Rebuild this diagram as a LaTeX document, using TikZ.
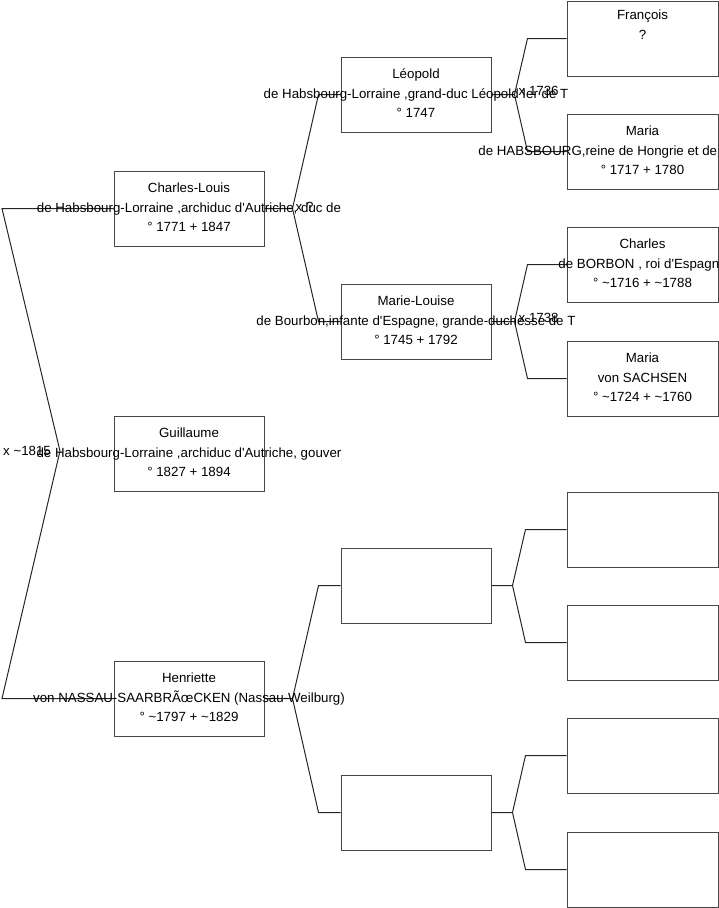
\documentclass[tikz,border=0pt]{standalone}
\usepackage{fontspec}
\setmainfont{Liberation Sans}[Ligatures=TeXOff]
\newcommand\mytilde{\textasciitilde}
\begin{document}
\begin{tikzpicture}[x=1pt,y=-1pt,
  person/.style={draw=black!72, line width=1pt, minimum width=150pt, minimum height=75pt, inner sep=0pt},
  personr/.style={person, minimum width=151pt},
  ptext/.style={align=center, font=\fontsize{13.3}{19.5}\selectfont, inner sep=0pt},
  link/.style={draw=black!85, line width=1pt},
  mlabel/.style={anchor=west, font=\fontsize{13.3}{16}\selectfont, inner sep=0pt}]
\useasboundingbox (0,0) rectangle (719,908);
% column 0
\node[person] (cl) at (189,208.5) {};
\node[person] (gu) at (189,453.5) {};
\node[person] (he) at (189,698.5) {};
% column 1
\node[person] (le) at (416,94.5) {};
\node[person] (ml) at (416,321.5) {};
\node[person] (e1) at (416,585.5) {};
\node[person] (e2) at (416,812.5) {};
% column 2
\node[personr] (fr) at (642.5,38.5) {};
\node[personr] (mh) at (642.5,151.5) {};
\node[personr] (ch) at (642.5,264.5) {};
\node[personr] (ms) at (642.5,378.5) {};
\node[personr] (e3) at (642.5,529.5) {};
\node[personr] (e4) at (642.5,642.5) {};
\node[personr] (e5) at (642.5,755.5) {};
\node[personr] (e6) at (642.5,869.5) {};
% connectors
\coordinate (l1) at (2,208.5);
\coordinate (l2) at (60,451);
\coordinate (l3) at (2,698.5);
\draw[link] (cl.west) -- (l1) -- (l2) -- (l3) -- (he.west);
\coordinate (f1) at ([xshift=28pt]cl.east);
\draw[link] (cl.east) -- (f1) -- ([xshift=-22pt]le.west) -- (le.west);
\draw[link] (f1) -- ([xshift=-22pt]ml.west) -- (ml.west);
\coordinate (f2) at ([xshift=28pt]he.east);
\draw[link] (he.east) -- (f2) -- ([xshift=-22pt]e1.west) -- (e1.west);
\draw[link] (f2) -- ([xshift=-22pt]e2.west) -- (e2.west);
\coordinate (f3) at ([xshift=23pt]le.east);
\draw[link] (le.east) -- (f3) -- ([xshift=-39pt]fr.west) -- (fr.west);
\draw[link] (f3) -- ([xshift=-39pt]mh.west) -- (mh.west);
\coordinate (f4) at ([xshift=23pt]ml.east);
\draw[link] (ml.east) -- (f4) -- ([xshift=-39pt]ch.west) -- (ch.west);
\draw[link] (f4) -- ([xshift=-39pt]ms.west) -- (ms.west);
\coordinate (f5) at ([xshift=21pt]e1.east);
\draw[link] (e1.east) -- (f5) -- ([xshift=-41pt]e3.west) -- (e3.west);
\draw[link] (f5) -- ([xshift=-41pt]e4.west) -- (e4.west);
\coordinate (f6) at ([xshift=21pt]e2.east);
\draw[link] (e2.east) -- (f6) -- ([xshift=-41pt]e5.west) -- (e5.west);
\draw[link] (f6) -- ([xshift=-41pt]e6.west) -- (e6.west);
% texts
\node[ptext] (clt) at ([yshift=1pt]cl.center) {Charles-Louis\\de Habsbourg-Lorraine ,archiduc d'Autriche, duc de\\° 1771 + 1847};
\node[ptext] (gut) at ([yshift=1pt]gu.center) {Guillaume\\de Habsbourg-Lorraine ,archiduc d'Autriche, gouver\\° 1827 + 1894};
\node[ptext] (het) at ([yshift=1pt]he.center) {Henriette\\von NASSAU-SAARBRÃœCKEN (Nassau-Weilburg)\\° \mytilde1797 + \mytilde1829};
\node[ptext] (let) at ([yshift=1pt]le.center) {Léopold\\de Habsbourg-Lorraine ,grand-duc Léopold Ier de T\\° 1747};
\node[ptext] (mlt) at ([yshift=1pt]ml.center) {Marie-Louise\\de Bourbon,infante d'Espagne, grande-duchesse de T\\° 1745 + 1792};
\node[ptext] (frt) at ([yshift=1pt]fr.center) {François\\?\\\strut};
\node[ptext] (mht) at ([yshift=1pt]mh.center) {Maria\\de HABSBOURG,reine de Hongrie et de Bohême, impé\\° 1717 + 1780};
\node[ptext] (cht) at ([yshift=1pt]ch.center) {Charles\\de BORBON , roi d'Espagne\\° \mytilde1716 + \mytilde1788};
\node[ptext] (mst) at ([yshift=1pt]ms.center) {Maria\\von SACHSEN\\° \mytilde1724 + \mytilde1760};
% marriage labels
\node[mlabel] (m0) at ([xshift=1pt]l1 |- l2) {x \mytilde1815};
\node[mlabel] (m1) at ([xshift=3pt,yshift=2pt]f1) {x ?};
\node[mlabel] (m2) at ([xshift=4pt,yshift=4pt]f3) {x 1736};
\node[mlabel] (m3) at ([xshift=4pt,yshift=4pt]f4) {x 1738};
\end{tikzpicture}
\end{document}
